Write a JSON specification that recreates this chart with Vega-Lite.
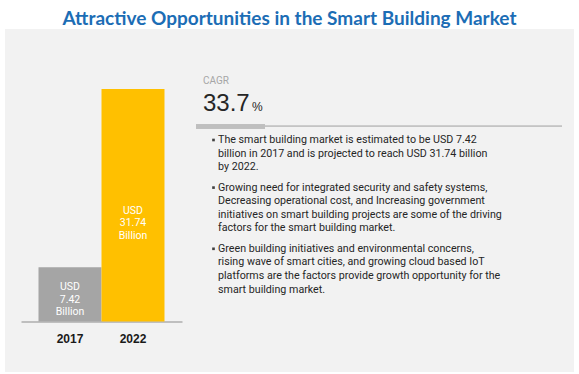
{
  "$schema": "https://vega.github.io/schema/vega-lite/v6.json",
  "width": 569,
  "height": 343,
  "autosize": {"type": "none"},
  "padding": {"left": 5, "right": 5, "top": 29, "bottom": 2},
  "background": "white",
  "config": {"view": {"stroke": null, "fill": "#f2f2f2"}},
  "title": {
    "text": "Attractive Opportunities in the Smart Building Market",
    "font": "Lato",
    "fontSize": 19,
    "fontWeight": "bold",
    "color": "#1c6db5",
    "anchor": "middle",
    "frame": "group",
    "offset": 0
  },
  "datasets": {
    "market": [
      {"year": "2017", "value": 7.42, "label": "USD\n7.42\nBillion"},
      {"year": "2022", "value": 31.74, "label": "USD\n31.74\nBillion"}
    ],
    "notes": [
      {"role": "label", "text": "CAGR", "line": -3.35},
      {"role": "value", "text": "33.7", "line": -1.13},
      {"role": "unit", "text": "%", "line": -1.13},
      {"role": "bullet", "text": "The smart building market is estimated to be USD 7.42", "line": 1},
      {"role": "text", "text": "billion in 2017 and is projected to reach USD 31.74 billion", "line": 2},
      {"role": "text", "text": "by 2022.", "line": 3},
      {"role": "bullet", "text": "Growing need for integrated security and safety systems,", "line": 4.5},
      {"role": "text", "text": "Decreasing operational cost, and Increasing government", "line": 5.5},
      {"role": "text", "text": "initiatives on smart building projects are some of the driving", "line": 6.5},
      {"role": "text", "text": "factors for the smart building market.", "line": 7.5},
      {"role": "bullet", "text": "Green building initiatives and environmental concerns,", "line": 9},
      {"role": "text", "text": "rising wave of smart cities, and growing cloud based IoT", "line": 10},
      {"role": "text", "text": "platforms are the factors provide growth opportunity  for the", "line": 11},
      {"role": "text", "text": "smart building market.", "line": 12}
    ]
  },
  "resolve": {
    "scale": {"x": "independent", "y": "independent", "color": "independent"},
    "axis": {"x": "independent", "y": "independent"}
  },
  "layer": [
    {
      "data": {"name": "market"},
      "layer": [
        {
          "mark": {"type": "bar"},
          "encoding": {
            "x": {
              "field": "year",
              "type": "ordinal",
              "scale": {"range": [16, 177], "paddingInner": 0, "paddingOuter": 0.278},
              "axis": {
                "orient": "bottom",
                "offset": -50.5,
                "title": null,
                "labelAngle": 0,
                "ticks": false,
                "grid": false,
                "domainColor": "#8c8c8c",
                "domainWidth": 1,
                "labelFont": "Liberation Sans",
                "labelFontSize": 12,
                "labelFontWeight": "bold",
                "labelColor": "#1a1a1a",
                "labelPadding": 12
              }
            },
            "y": {
              "field": "value",
              "type": "quantitative",
              "scale": {"domain": [-6.894, 39.93], "nice": false, "zero": false},
              "axis": null
            },
            "color": {
              "field": "year",
              "type": "nominal",
              "scale": {"domain": ["2017", "2022"], "range": ["#a5a5a5", "#ffc000"]},
              "legend": null
            }
          }
        },
        {
          "transform": [{"calculate": "datum.value * 0.43", "as": "labelY"}],
          "mark": {
            "type": "text",
            "color": "white",
            "font": "Roboto, sans-serif",
            "fontSize": 10.5,
            "lineBreak": "\n",
            "lineHeight": 12.5,
            "align": "center",
            "baseline": "middle",
            "dy": -11
          },
          "encoding": {
            "x": {"field": "year", "type": "ordinal"},
            "y": {
              "field": "labelY",
              "type": "quantitative",
              "scale": {"domain": [-6.894, 39.93], "nice": false, "zero": false},
              "axis": null
            },
            "text": {"field": "label", "type": "nominal"}
          }
        }
      ]
    },
    {
      "data": {"name": "notes"},
      "encoding": {
        "y": {
          "field": "line",
          "type": "quantitative",
          "scale": {"domain": [-7.162, 18.059], "reverse": true, "nice": false, "zero": false},
          "axis": null
        }
      },
      "layer": [
        {
          "transform": [{"filter": "datum.role === 'label'"}],
          "mark": {"type": "text", "align": "left", "baseline": "middle", "font": "Roboto, sans-serif", "fontSize": 10, "color": "#a6a6a6"},
          "encoding": {
            "x": {"datum": 198, "type": "quantitative", "scale": {"domain": [0, 569], "nice": false, "zero": false}, "axis": null},
            "text": {"field": "text", "type": "nominal"}
          }
        },
        {
          "transform": [{"filter": "datum.role === 'value'"}],
          "mark": {"type": "text", "align": "left", "baseline": "alphabetic", "font": "Liberation Sans", "fontSize": 24, "color": "#262626"},
          "encoding": {
            "x": {"datum": 198, "type": "quantitative", "scale": {"domain": [0, 569], "nice": false, "zero": false}, "axis": null},
            "text": {"field": "text", "type": "nominal"}
          }
        },
        {
          "transform": [{"filter": "datum.role === 'unit'"}],
          "mark": {"type": "text", "align": "left", "baseline": "alphabetic", "font": "Liberation Sans", "fontSize": 12, "color": "#262626"},
          "encoding": {
            "x": {"datum": 247, "type": "quantitative", "scale": {"domain": [0, 569], "nice": false, "zero": false}, "axis": null},
            "text": {"field": "text", "type": "nominal"}
          }
        },
        {
          "mark": {"type": "rule", "color": "#c4c4c4", "strokeWidth": 1},
          "encoding": {
            "x": {"datum": 260, "type": "quantitative", "scale": {"domain": [0, 569], "nice": false, "zero": false}, "axis": null},
            "x2": {"datum": 557},
            "y": {"datum": 0, "type": "quantitative"}
          }
        },
        {
          "mark": {"type": "rule", "color": "#bfbfbf", "strokeWidth": 4},
          "encoding": {
            "x": {"datum": 191, "type": "quantitative", "scale": {"domain": [0, 569], "nice": false, "zero": false}, "axis": null},
            "x2": {"datum": 260},
            "y": {"datum": 0, "type": "quantitative"}
          }
        },
        {
          "transform": [{"filter": "datum.role === 'bullet'"}],
          "mark": {"type": "point", "shape": "square", "filled": true, "size": 7, "color": "#404040", "opacity": 1},
          "encoding": {
            "x": {"datum": 208.5, "type": "quantitative", "scale": {"domain": [0, 569], "nice": false, "zero": false}, "axis": null}
          }
        },
        {
          "transform": [{"filter": "datum.role === 'bullet' || datum.role === 'text'"}],
          "mark": {"type": "text", "align": "left", "baseline": "middle", "font": "Roboto, sans-serif", "fontSize": 10.7, "color": "#262626"},
          "encoding": {
            "x": {"datum": 213, "type": "quantitative", "scale": {"domain": [0, 569], "nice": false, "zero": false}, "axis": null},
            "text": {"field": "text", "type": "nominal"}
          }
        }
      ]
    }
  ]
}
